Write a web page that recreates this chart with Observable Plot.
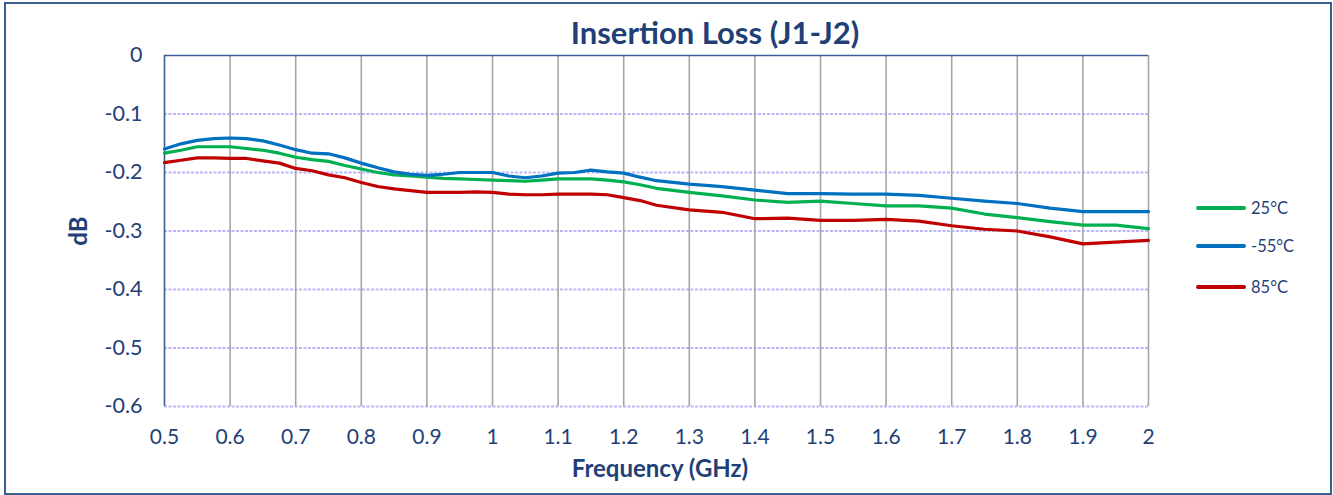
<!DOCTYPE html>
<html>
<head>
<meta charset="utf-8">
<script src="https://cdn.jsdelivr.net/npm/d3@7"></script>
<script src="https://cdn.jsdelivr.net/npm/@observablehq/plot@0.6"></script>
<style>
  html, body { margin: 0; padding: 0; background: #fff; }
  #wrap { position: relative; width: 1333px; height: 495px; overflow: hidden; font-family: Lato, "Open Sans", sans-serif; }
  #wrap svg { position: absolute; left: 0; top: 0; }
  .frame { position: absolute; left: 4px; top: 2px; width: 1324px; height: 489px; border: 2px solid #3A5F93; pointer-events: none; }
  .title { position: absolute; left: 0; width: 1430px; top: 12px; text-align: center; font-weight: bold; font-size: 31px; line-height: 40px; color: #1F3F77; }
  .xlabel { position: absolute; left: 0; width: 1320px; top: 453px; text-align: center; font-weight: bold; font-size: 24px; line-height: 30px; color: #1F3F77; }
  .ylabel { position: absolute; left: 78px; top: 231px; transform: translate(-50%, -50%) rotate(-90deg); font-weight: bold; font-size: 24px; line-height: 30px; color: #1F3F77; }
  .legend { position: absolute; left: 1196px; font-size: 16.5px; color: #1F3F77; display: flex; align-items: center; }
  .legend span.sw { display: inline-block; width: 50px; height: 3.5px; border-radius: 2px; margin-right: 5px; }
</style>
</head>
<body>
<div id="wrap">
  <div id="chart"></div>
  <div class="title">Insertion Loss (J1-J2)</div>
  <div class="xlabel">Frequency (GHz)</div>
  <div class="ylabel">dB</div>
  <div id="legend"></div>
  <div class="frame"></div>
</div>
<script>
const freq = [0.5,0.525,0.55,0.575,0.6,0.625,0.65,0.675,0.7,0.725,0.75,0.775,0.8,0.825,0.85,0.875,0.9,0.925,0.95,0.975,1.0,1.025,1.05,1.075,1.1,1.125,1.15,1.175,1.2,1.225,1.25,1.3,1.35,1.4,1.45,1.5,1.55,1.6,1.65,1.7,1.75,1.8,1.85,1.9,1.95,2.0];

const loss25 = [-0.167,-0.162,-0.156,-0.156,-0.156,-0.159,-0.162,-0.167,-0.174,-0.178,-0.181,-0.188,-0.194,-0.200,-0.204,-0.206,-0.208,-0.210,-0.211,-0.212,-0.213,-0.214,-0.215,-0.213,-0.211,-0.211,-0.211,-0.213,-0.216,-0.221,-0.227,-0.234,-0.240,-0.247,-0.251,-0.249,-0.253,-0.257,-0.257,-0.261,-0.271,-0.277,-0.284,-0.290,-0.290,-0.296];

const lossM55 = [-0.160,-0.151,-0.145,-0.142,-0.141,-0.142,-0.146,-0.153,-0.161,-0.167,-0.168,-0.175,-0.184,-0.192,-0.199,-0.203,-0.205,-0.203,-0.200,-0.200,-0.200,-0.206,-0.209,-0.206,-0.201,-0.200,-0.196,-0.199,-0.201,-0.208,-0.214,-0.220,-0.224,-0.230,-0.236,-0.236,-0.237,-0.237,-0.239,-0.244,-0.249,-0.253,-0.261,-0.267,-0.267,-0.267];

const loss85 = [-0.183,-0.179,-0.175,-0.175,-0.176,-0.176,-0.180,-0.184,-0.193,-0.197,-0.204,-0.209,-0.217,-0.224,-0.228,-0.231,-0.234,-0.234,-0.234,-0.233,-0.234,-0.237,-0.238,-0.238,-0.237,-0.237,-0.237,-0.238,-0.243,-0.248,-0.256,-0.264,-0.268,-0.279,-0.278,-0.282,-0.282,-0.280,-0.283,-0.291,-0.297,-0.300,-0.310,-0.322,-0.319,-0.316];

const seriesNames = ["25°C", "-55°C", "85°C"];
const seriesColors = ["#00B050", "#0070C0", "#C00000"];
const xTicks = [0.5,0.6,0.7,0.8,0.9,1.0,1.1,1.2,1.3,1.4,1.5,1.6,1.7,1.8,1.9,2.0];
const yTicks = [0,-0.1,-0.2,-0.3,-0.4,-0.5,-0.6];

const seriesValues = [loss25, lossM55, loss85];
const rows = [];
seriesNames.forEach((name, i) => {
  freq.forEach((f, j) => rows.push({series: name, f, v: seriesValues[i][j]}));
});

const fmt = d => String(+(+d).toFixed(1));
const textColor = "#1F3F77";

const chart = Plot.plot({
  width: 1333,
  height: 495,
  marginLeft: 164,
  marginRight: 185,
  marginTop: 55,
  marginBottom: 89,
  style: {fontFamily: "Lato, 'Open Sans', sans-serif", background: "transparent"},
  x: {domain: [0.5, 2.0]},
  y: {domain: [-0.6, 0]},
  color: {domain: seriesNames, range: seriesColors},
  marks: [
    Plot.ruleY(yTicks.filter(d => d !== 0), {stroke: "#B8B8F8", strokeWidth: 2, strokeDasharray: "3,1.5"}),
    Plot.ruleX(xTicks.filter(d => d !== 0.5), {stroke: "#A6A6A6", strokeWidth: 1.6}),
    Plot.ruleY([0], {stroke: "#3A5F93", strokeWidth: 1.6}),
    Plot.ruleX([0.5], {stroke: "#3A5F93", strokeWidth: 1.6}),
    Plot.axisX({ticks: xTicks, tickFormat: fmt, tickSize: 0, tickPadding: 23, fontSize: 21, color: textColor, label: null}),
    Plot.axisY({ticks: yTicks, tickFormat: fmt, tickSize: 0, tickPadding: 22, fontSize: 21.5, color: textColor, label: null}),
    Plot.line(rows, {x: "f", y: "v", z: "series", stroke: "series", strokeWidth: 3.2, curve: "linear"})
  ]
});
document.getElementById("chart").appendChild(chart);

const legendTops = [208, 246, 287];
const legend = document.getElementById("legend");
seriesNames.forEach((name, i) => {
  const el = document.createElement("div");
  el.className = "legend";
  el.style.top = (legendTops[i] - 10) + "px";
  el.style.height = "20px";
  el.innerHTML = `<span class="sw" style="background:${seriesColors[i]}"></span><span>${name}</span>`;
  legend.appendChild(el);
});
</script>
</body>
</html>
